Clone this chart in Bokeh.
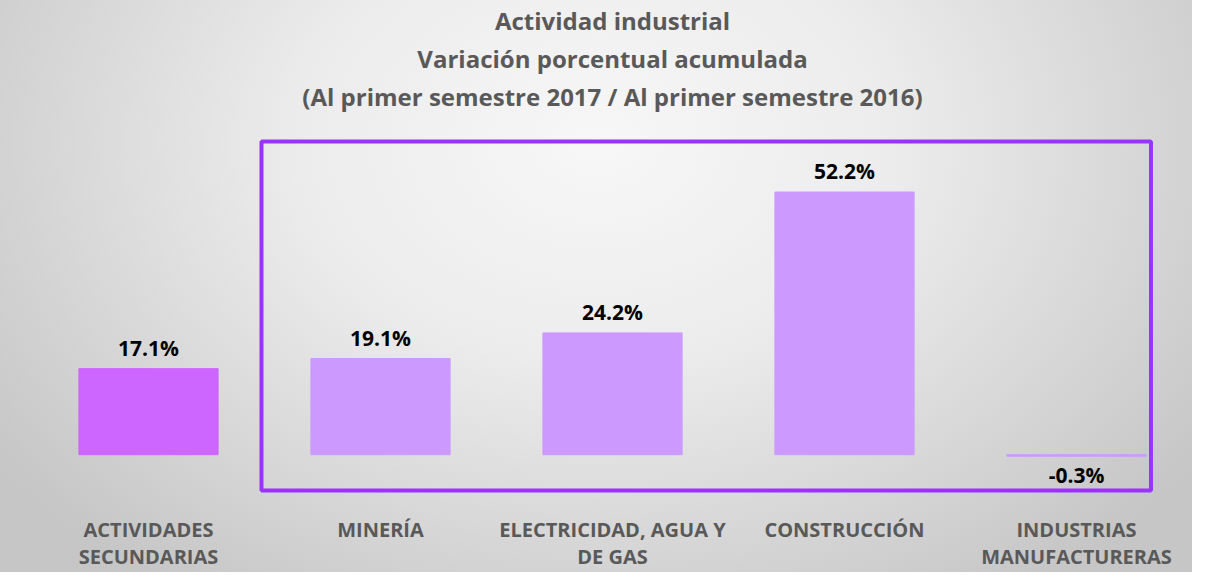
from bokeh.plotting import figure
from bokeh.models import FactorRange, Range1d, BoxAnnotation, Title, ColumnDataSource
from bokeh.core.properties import value
from bokeh.embed import file_html
from bokeh.resources import INLINE

# ---- data ----
categories = ["ACTIVIDADES\nSECUNDARIAS", "MINERÍA", "ELECTRICIDAD, AGUA Y\nDE GAS",
              "CONSTRUCCIÓN", "INDUSTRIAS\nMANUFACTURERAS"]
values = [17.1, 19.1, 24.2, 52.2, -0.3]
labels = ["17.1%", "19.1%", "24.2%", "52.2%", "-0.3%"]
bar_colors = ["#cc66ff", "#cc99ff", "#cc99ff", "#cc99ff", "#cc99ff"]
title_lines = ["Actividad industrial",
               "Variación porcentual acumulada",
               "(Al primer semestre 2017 / Al primer semestre 2016)"]

FONT = "Open Sans"

# highlight box around the components (synthetic categorical x units, % on y)
BOX_LEFT, BOX_RIGHT, BOX_TOP, BOX_BOTTOM = 0.987, 4.821, 62.25, -7.1

p = figure(width=1192, height=572,
           x_range=FactorRange(*categories, range_padding=0),
           y_range=Range1d(-7.71, 67.6),
           y_axis_location=None,
           output_backend="svg", toolbar_location=None, title=None,
           min_border_left=32, min_border_right=0, min_border_top=0, min_border_bottom=76)

p.styles = {"background-image":
            "radial-gradient(ellipse 62% 95% at 50% 25%, #f7f7f7 0%, #ececec 40%, #c6c6c6 100%)"}
p.border_fill_color = None
p.background_fill_color = None
p.outline_line_color = None
p.xgrid.visible = False
p.ygrid.visible = False

for t in reversed(title_lines):
    p.add_layout(Title(text=t, align="center", text_font=FONT, text_font_size="24px",
                       text_font_style="bold", text_color="#595959", standoff=3), "above")

src = ColumnDataSource(dict(
    cat=categories, val=values, lab=labels, color=bar_colors,
    off=[-21 if v >= 0 else 19 for v in values],
))

p.vbar(x="cat", top="val", bottom=0, width=0.6, color="color", source=src)
p.text(x="cat", y="val", text="lab", y_offset="off", source=src,
       text_align="center", text_baseline="alphabetic",
       text_font=value(FONT), text_font_size="21px", text_font_style="bold",
       text_color="#000000")

box = BoxAnnotation(left=BOX_LEFT, right=BOX_RIGHT, top=BOX_TOP, bottom=BOX_BOTTOM,
                    fill_alpha=0, line_color="#9933ff", line_alpha=1.0, line_width=4)
p.add_layout(box)

ax = p.xaxis[0]
ax.axis_line_color = None
ax.major_tick_line_color = None
ax.minor_tick_line_color = None
ax.major_tick_out = 0
ax.major_tick_in = 0
ax.major_label_text_font = FONT
ax.major_label_text_font_size = "20px"
ax.major_label_text_font_style = "bold"
ax.major_label_text_color = "#595959"
ax.major_label_text_line_height = 1.0
ax.major_label_standoff = 22
ax.group_text_font_size = "0px"

open("out.html", "w").write(file_html(p, INLINE))
